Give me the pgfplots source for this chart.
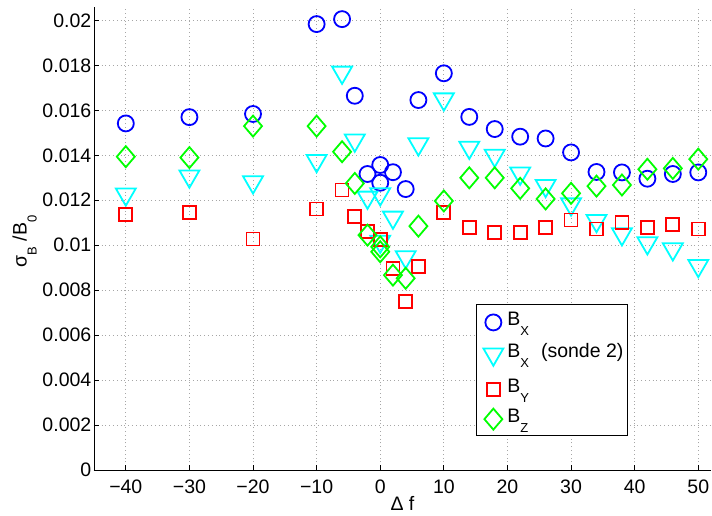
\documentclass[border=0pt]{standalone}
\usepackage{fontspec}
\setmainfont{Liberation Sans}
\usepackage{pgfplots}
\pgfplotsset{compat=1.18}
\newcommand\sub[1]{\raisebox{-10pt}{\fontsize{13}{13}\selectfont #1}}
\newcommand\bigf{\fontsize{19.5}{22}\selectfont}
\definecolor{mblue}{rgb}{0,0,1}
\definecolor{mcyan}{rgb}{0,1,1}
\definecolor{mred}{rgb}{1,0,0}
\definecolor{mgreen}{rgb}{0,1,0}
\begin{document}
\begin{tikzpicture}
\begin{axis}[
  at={(0,0)}, anchor=south west,
  scale only axis, width=617pt, height=463pt,
  xmin=-45, xmax=52, ymin=0, ymax=0.0206,
  axis x line*=bottom, axis y line*=left,
  axis line style={line width=0.9pt, -},
  /pgf/number format/assume math mode=true,
  xtick={-40,-30,-20,-10,0,10,20,30,40,50},
  xticklabels={−40,−30,−20,−10,0,10,20,30,40,50},
  ytick={0,0.002,0.004,0.006,0.008,0.01,0.012,0.014,0.016,0.018,0.02},
  yticklabels={0,0.002,0.004,0.006,0.008,0.01,0.012,0.014,0.016,0.018,0.02},
  tick align=inside, major tick length=5pt,
  tick style={black, line width=0.8pt},
  grid=major,
  major grid style={gray!70, line width=0.7pt, dash pattern=on 1pt off 2.8pt},
  font=\bigf,
  tick label style={font=\bigf},
  xticklabel style={inner sep=0pt, anchor=north, yshift=-10pt},
  yticklabel style={inner sep=0pt, anchor=east, xshift=-2.5pt},
  xlabel={Δ f},
  xlabel style={font=\bigf, at={(axis description cs:0.5,0)}, anchor=north, inner sep=0pt, yshift=-26pt},
  ylabel={σ\sub{B} /B\sub{0}},
  ylabel style={font=\bigf, at={(axis description cs:0,0.5)}, anchor=south, inner sep=0pt, yshift=57pt, xshift=-3pt},
  legend style={at={(0.619,0.3596)}, anchor=north west, draw=black, line width=0.9pt,
    inner xsep=2pt, inner ysep=6pt, row sep=11pt,
    nodes={inner sep=2pt},
    font=\bigf},
  legend cell align=left,
  legend image code/.code={\path[draw=none,fill=none] (0pt,-3pt) -- (27pt,-3pt);\draw[mark repeat=2,mark phase=2,#1] plot coordinates {(0pt,-3pt) (15pt,-3pt) (27pt,-3pt)};},
]
\addplot[only marks, mark=o, mark size=8pt, mark options={draw=mblue, line width=1.8pt}] coordinates {
(-40,0.01542) (-30,0.01570) (-20,0.01584) (-10,0.01984) (-6,0.02006) (-4,0.01665)
(-2,0.01317) (0,0.01357) (0,0.01278) (2,0.01325) (4,0.01250) (6,0.01646)
(10,0.01765) (14,0.01571) (18,0.01517) (22,0.01483) (26,0.01475) (30,0.01413)
(34,0.01326) (38,0.01324) (42,0.01296) (46,0.01317) (50,0.01324)};
\addlegendentry{B\sub{X}}
\addplot[only marks, mark=triangle, mark size=11.5pt, mark options={draw=mcyan, line width=1.8pt, rotate=180}] coordinates {
(-40,0.01227) (-30,0.01307) (-20,0.01281) (-10,0.01376) (-6,0.01769) (-4,0.01467)
(-2,0.01213) (0,0.01228) (0,0.01017) (2,0.01124) (4,0.00948) (6,0.01450)
(10,0.01650) (14,0.01435) (18,0.01399) (22,0.01320) (26,0.01265) (30,0.01183)
(34,0.01109) (38,0.01050) (42,0.01010) (46,0.00983) (50,0.00909)};
\addlegendentry{B\sub{X}\hspace{12pt}(sonde 2)}
\addplot[only marks, mark=square, mark size=6.5pt, mark options={draw=mred, line width=1.8pt}] coordinates {
(-40,0.01138) (-30,0.01146) (-20,0.01028) (-10,0.01161) (-6,0.01246) (-4,0.01127)
(-2,0.01060) (0,0.01027) (2,0.00897) (4,0.00749) (6,0.00907) (10,0.01145)
(14,0.01078) (18,0.01057) (22,0.01057) (26,0.01078) (30,0.01112) (34,0.01072)
(38,0.01100) (42,0.01078) (46,0.01093) (50,0.01072)};
\addlegendentry{B\sub{Y}}
\addplot[only marks, mark=diamond, mark size=10.5pt, mark options={draw=mgreen, line width=1.8pt, xscale=1.14}] coordinates {
(-40,0.01394) (-30,0.01390) (-20,0.01530) (-10,0.01530) (-6,0.01416) (-4,0.01275)
(-2,0.01045) (0,0.00993) (0,0.00971) (2,0.00867) (4,0.00853) (6,0.01085)
(10,0.01197) (14,0.01300) (18,0.01300) (22,0.01253) (26,0.01206) (30,0.01231)
(34,0.01263) (38,0.01268) (42,0.01338) (46,0.01342) (50,0.01383)};
\addlegendentry{B\sub{Z}}
\end{axis}
\pgfresetboundingbox
\path[use as bounding box] (-94pt,-46pt) rectangle (618pt,470pt);
\end{tikzpicture}
\end{document}
